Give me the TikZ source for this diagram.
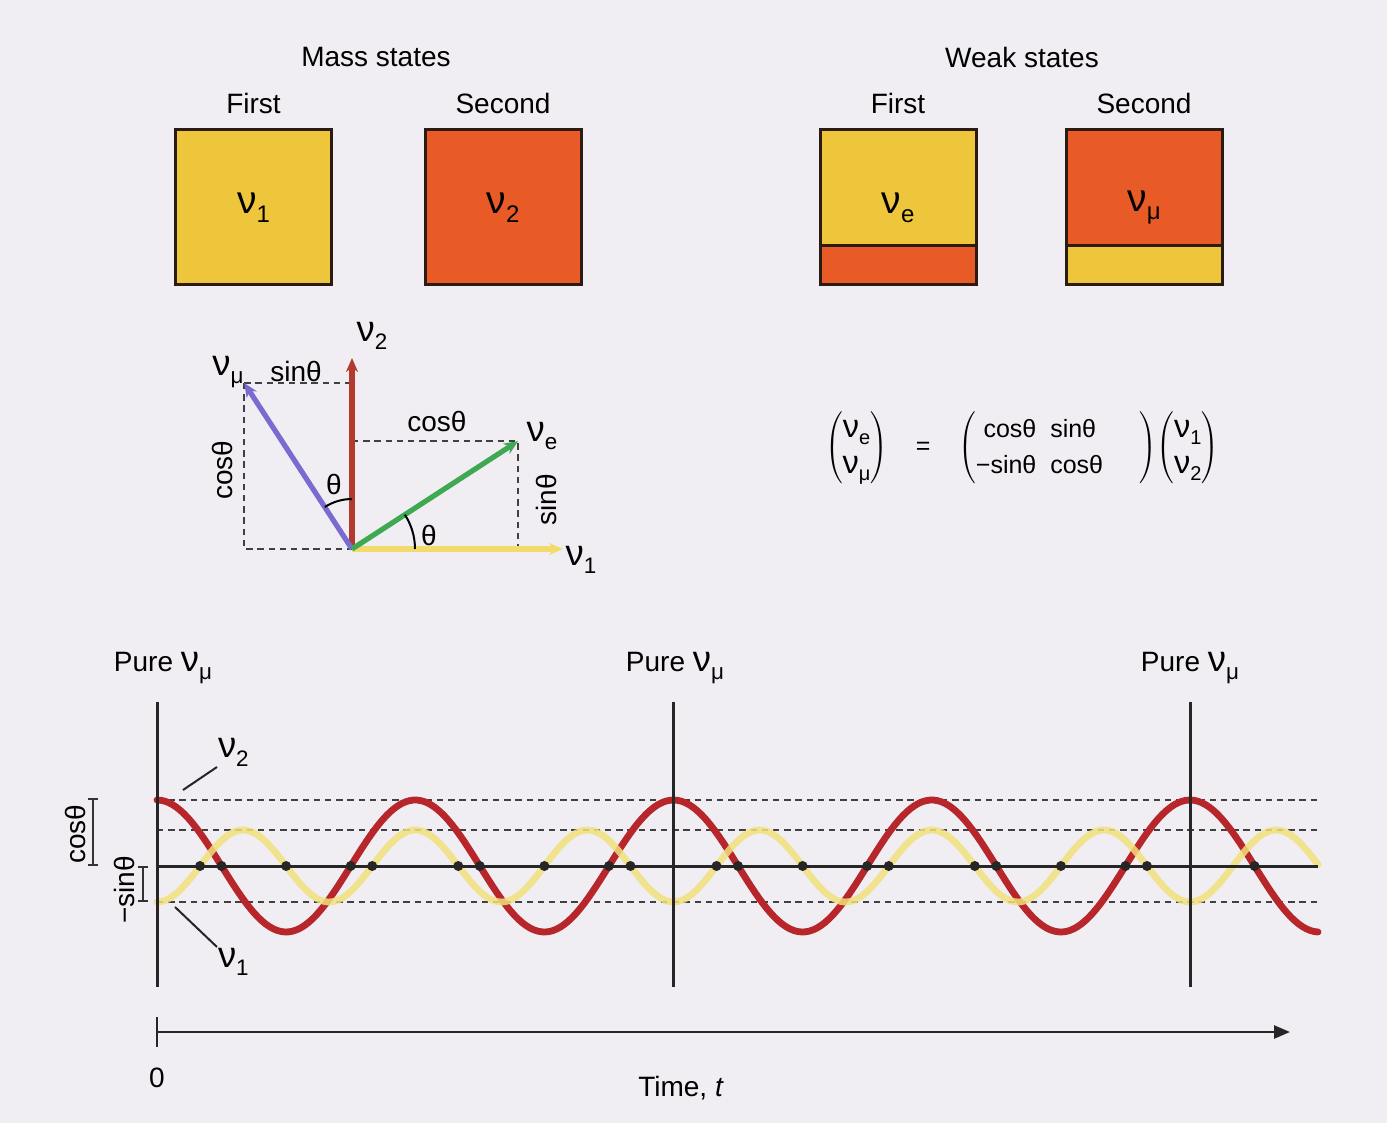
\documentclass[tikz,border=0pt]{standalone}
\usepackage{fontspec}
\setmainfont{Liberation Sans}
\usepackage{graphicx}
\definecolor{paper}{HTML}{F0EEF2}
\definecolor{gold}{HTML}{EEC63C}
\definecolor{rust}{HTML}{E85A26}
\definecolor{edge}{HTML}{2B1B12}
\definecolor{wred}{HTML}{B7262B}
\definecolor{wyel}{HTML}{F2E07C}
\definecolor{vred}{HTML}{B23B2E}
\definecolor{vpur}{HTML}{7A6BD0}
\definecolor{vgrn}{HTML}{3FA852}
\definecolor{vyel}{HTML}{F2DA6C}
\usetikzlibrary{arrows.meta,positioning,calc}
\tikzset{
  >={Stealth[length=7pt,width=6pt]},
  lab/.style={font=\fontsize{14}{16}\selectfont,inner sep=1pt},
  state/.style={draw=edge,line width=1.5pt,minimum width=78pt,minimum height=77.5pt,inner sep=0pt,font=\fontsize{15}{17}\selectfont},
  vec/.style={->,line width=2.6pt},
  guide/.style={draw=black!75,line width=0.9pt,dash pattern=on 3.2pt off 2.4pt},
  wave/.style={line width=3.4pt,line cap=round},
  axis/.style={draw=black!85,line width=1.5pt},
  leader/.style={draw=black!85,line width=1pt},
  bar/.style={draw=black!80,line width=0.8pt,{Bar[width=5pt]}-{Bar[width=5pt]}},
}
\newcommand{\nut}[1]{\scalebox{1.3}{ν}\raisebox{-0.55ex}{\scalebox{0.8}{#1}}}
\newcommand{\colv}[2]{$\left(\begin{tabular}{@{}c@{}}#1\\#2\end{tabular}\right)$}

\begin{document}
\begin{tikzpicture}[x=0.5pt,y=-0.5pt]
\useasboundingbox (0,0) rectangle (1387,1123);
\fill[paper] (0,0) rectangle (1387,1123);

% mass and weak states
\node[lab] (mass) at (376,57) {Mass states};
\node[lab] (weak) at (1022,57) {Weak states};
\node[state,fill=gold] (m1) at (253.5,207.5) {\nut{1}};
\node[state,fill=rust] (m2) at (503,207.5) {\nut{2}};
\fill[gold] (820,130) rectangle (976,246);
\fill[rust] (820,246) rectangle (976,285);
\fill[rust] (1066,130) rectangle (1222,246);
\fill[gold] (1066,246) rectangle (1222,285);
\node[state] (w1) at (898,207.5) {\nut{e}};
\node[state] (w2) at (1144,207.5) {\nut{μ}};
\draw[state] (w1.west |- 0,246) -- (w1.east |- 0,246);
\draw[state] (w2.west |- 0,246) -- (w2.east |- 0,246);
\foreach \b/\t in {m1/First,m2/Second,w1/First,w2/Second}
  \node[lab,above=6pt of \b] (\b top) {\t};

% rotation of the basis
\def\ang{33}
\coordinate (O) at (352,549);
\coordinate (n1) at (563,549);
\coordinate (n2) at (352,358);
\coordinate (ne) at ($(O)+(-\ang:198)$);
\coordinate (nm) at ($(O)+(-90-\ang:198)$);
\draw[guide] (nm) -- (nm -| O);
\draw[guide] (nm) -- (nm |- O) -- (O);
\draw[guide] (ne -| O) -- (ne) -- (ne |- O);
\draw[vec,vyel] (O) -- (n1);
\draw[vec,vred] (O) -- (n2);
\draw[vec,vpur] (O) -- (nm);
\draw[vec,vgrn] (O) -- (ne);
\draw[line width=1pt] (O) ++(-90:50) arc (-90:-90-\ang:50);
\draw[line width=1pt] (O) ++(0:63) arc (0:-\ang:63);
\node[lab] (l1) at (581,560) {\nut{1}};
\node[lab] (l2) at (372,336) {\nut{2}};
\node[lab] (le) at (542,436) {\nut{e}};
\node[lab] (lm) at (228,372) {\nut{μ}};
\node[lab] (snt) at (296,371) {sinθ};
\node[lab] (cst) at (437,421) {cosθ};
\node[lab,rotate=90] (csl) at (222,470) {cosθ};
\node[lab,rotate=90] (snr) at (546,500) {sinθ};
\node[lab] (th1) at (334,484) {θ};
\node[lab] (th2) at (429,535) {θ};

% mixing matrix
\node[lab,font=\fontsize{12.5}{15}\selectfont] (mix) at (1022,448)
  {\renewcommand{\arraystretch}{1.2}\colv{\nut{e}}{\nut{μ}}\hspace{14pt}=\hspace{14pt}$\left(\begin{tabular}{@{}r@{\ \ }l@{}}cosθ & sinθ\\−sinθ & cosθ\end{tabular}\hspace{18pt}\right)$\colv{\nut{1}}{\nut{2}}};

% oscillation in time
\foreach \y in {800,830,902}
  \draw[guide] (157,\y) -- (1318,\y);
\draw[wave,wred] plot[domain=157:1318,samples=300] (\x,{866-66*cos(1.394*(\x-157))});
\draw[wave,wyel,opacity=0.85] plot[domain=157:1318,samples=300] (\x,{866+36*cos(2.09096*(\x-157))});
\draw[axis] (157,866) -- (1318,866);
\foreach \k in {0,...,8}
  \fill[black!85] ({157+258.25*(0.25+0.5*\k)},866) circle (5);
\foreach \k in {0,...,11}
  \fill[black!85] ({157+172.17*(0.25+0.5*\k)},866) circle (5);
\foreach \x/\lx/\n in {157/163/a,673.5/675/b,1190/1190/c}{
  \node[lab] (pure\n) at (\lx,668) {Pure \nut{μ}};
  \draw[axis] (\x,702) -- (\x,987);
}
\draw[leader] (183,790) -- (217,767) node[lab,anchor=south west,inner sep=0pt] (w2lab) {\nut{2}};
\draw[leader] (175,907) -- (217,947) node[lab,anchor=north west,inner sep=0pt] (w1lab) {\nut{1}};
\draw[bar] (93,798) -- (93,866);
\draw[bar] (143,866) -- (143,902);
\node[lab,rotate=90] (cosl) at (75,834) {cosθ};
\node[lab,rotate=90] (sinl) at (124,890) {−sinθ};

% time axis
\draw[axis,line width=1.3pt,-{Triangle[length=8pt,width=6.5pt]}] (157,1032) -- (1290,1032);
\draw[axis,line width=1.3pt] (157,1017) -- (157,1047);
\node[lab] (zero) at (157,1078) {0};
\node[lab] (time) at (681,1088) {Time, \textit{t}};
\end{tikzpicture}
\end{document}
